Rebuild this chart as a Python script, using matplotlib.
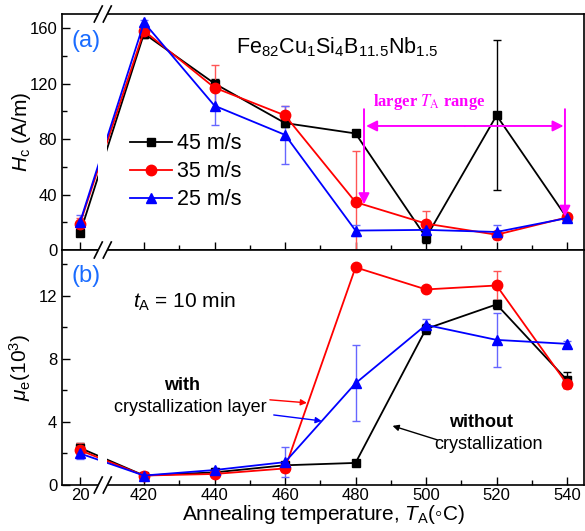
import numpy as np
import matplotlib
matplotlib.use('Agg')
import matplotlib.pyplot as plt
from matplotlib.transforms import IdentityTransform
from matplotlib.lines import Line2D
from matplotlib.patches import Polygon

plt.rcParams['font.family'] = ['Liberation Sans', 'DejaVu Sans']
plt.rcParams['mathtext.fontset'] = 'custom'
plt.rcParams['mathtext.rm'] = 'Liberation Sans'
plt.rcParams['mathtext.it'] = 'Liberation Sans:italic'
plt.rcParams['mathtext.bf'] = 'Liberation Sans:bold'

# ---------------- data ----------------
temps = [20, 420, 440, 460, 480, 500, 520, 540]
series = ['45 m/s', '35 m/s', '25 m/s']

hc_45 = [12, 156, 120, 91.5, 84, 9, 97, 23]
hc_35 = [19, 158, 117, 97, 34.5, 19, 11, 23.5]
hc_25 = [20, 164, 104, 83, 14, 14.5, 13, 23]
hc_45_err = [2, 3, 3, 3, 0, 4, 54, 1]
hc_35_err = [4, 3, 16, 7, 37, 9, 3, 1]
hc_25_err = [5, 2, 14, 21, 4, 2, 5, 1]

mu_45 = [2.35, 0.6, 0.8, 1.25, 1.4, 9.9, 11.45, 6.65]
mu_35 = [2.2, 0.6, 0.7, 1.05, 13.8, 12.4, 12.65, 6.4]
mu_25 = [2.0, 0.6, 0.95, 1.45, 6.45, 10.15, 9.2, 8.95]
mu_45_err = [0.3, 0.1, 0.1, 0.1, 0.0, 0.3, 0.3, 0.5]
mu_35_err = [0.45, 0.1, 0.1, 0.2, 0.1, 0.15, 0.9, 0.25]
mu_25_err = [0.35, 0.1, 0.15, 0.95, 2.4, 0.35, 1.7, 0.15]

major_ticks = [20, 420, 440, 460, 480, 500, 520, 540]
minor_ticks = [430, 450, 470, 490, 510, 530]

colors = ['black', 'red', 'blue']
err_colors = ['black', '#ff5555', '#6666ff']
markers = ['s', 'o', '^']
msizes = [6, 7.5, 7.5]

# ---------------- broken x scale ----------------
P20 = -0.908

def fwd(T):
    T = np.asarray(T, float)
    return np.where(T >= 420, (T - 420) / 20.0,
                    np.where(T >= 20, P20 + (T - 20) * (-P20) / 400.0,
                             P20 + (T - 20) / 20.0))

def inv(p):
    p = np.asarray(p, float)
    return np.where(p >= 0, 420 + 20.0 * p,
                    np.where(p >= P20, 20 + (p - P20) * 400.0 / (-P20),
                             20 + (p - P20) * 20.0))

W, H = 585, 531
fig = plt.figure(figsize=(W / 100, H / 100), dpi=100)
ax1 = fig.add_axes([62 / W, 1 - 250 / H, 522 / W, 236 / H])
ax2 = fig.add_axes([62 / W, 1 - 485 / H, 522 / W, 235 / H])

hc = [hc_45, hc_35, hc_25]
hce = [hc_45_err, hc_35_err, hc_25_err]
mu = [mu_45, mu_35, mu_25]
mue = [mu_45_err, mu_35_err, mu_25_err]

handles = []
for ax, vals, errs in [(ax1, hc, hce), (ax2, mu, mue)]:
    ax.set_xscale('function', functions=(fwd, inv))
    for i in range(3):
        ax.errorbar(temps, vals[i], yerr=errs[i], fmt='none', ecolor=err_colors[i],
                    elinewidth=1.0, capsize=3, capthick=1.0, zorder=1.8)
        ln, = ax.plot(temps, vals[i], color=colors[i], marker=markers[i],
                      markersize=msizes[i], lw=1.3, label=series[i], zorder=2)
        if ax is ax1:
            handles.append(ln)
    ax.set_xlim(14.9, 544.8)
    ax.set_xticks(major_ticks)
    ax.set_xticks(minor_ticks, minor=True)
    ax.tick_params(axis='both', which='both', direction='in', top=False, right=False,
                   labelsize=12)
    ax.tick_params(which='major', length=6, width=1)
    ax.tick_params(which='minor', length=3.5, width=1)
    ax.tick_params(axis='y', pad=3.5)
    ax.tick_params(axis='x', pad=2.5)
    for s in ax.spines.values():
        s.set_linewidth(1.2)
    # white gap through the connecting lines (axis break)
    ax.axvspan(134, 191, color='white', zorder=2.3, lw=0)

ax1.set_ylim(0, 170.1)
ax1.set_yticks([0, 40, 80, 120, 160])
ax1.set_yticks([20, 60, 100, 140], minor=True)
ax1.tick_params(axis='x', labelbottom=False)

ax2.set_ylim(0, 14.9)
ax2.set_yticks([0, 4, 8, 12])
ax2.set_yticks([2, 6, 10, 14], minor=True)

ax1.set_ylabel(r'$H_\mathrm{c}$ (A/m)', fontsize=15)
ax1.yaxis.set_label_coords(-0.055, 0.5)
ax2.set_ylabel(r'$\mu_\mathrm{e}$(10$^3$)', fontsize=15)
ax2.yaxis.set_label_coords(-0.055, 0.5)
ax2.set_xlabel(r'Annealing temperature, $T_\mathrm{A}$(◦C)', fontsize=15)
ax2.xaxis.set_label_coords(0.5, -0.077)

# panel labels
ax1.text(0.019, 0.885, '(a)', transform=ax1.transAxes, fontsize=17, color='#1a6cff',
         ha='left', va='center')
ax2.text(0.019, 0.89, '(b)', transform=ax2.transAxes, fontsize=17, color='#1a6cff',
         ha='left', va='center')

ax1.text(446, 142, r'Fe$_{82}$Cu$_1$Si$_4$B$_{11.5}$Nb$_{1.5}$', fontsize=15.5,
         ha='left', va='baseline')

leg = ax1.legend(handles=handles, loc='upper left', bbox_to_anchor=(0.13, 0.495),
                 frameon=False, fontsize=15.5, handlelength=1.95, handletextpad=0.25,
                 labelspacing=0.33, borderpad=0, borderaxespad=0, numpoints=1)

# magenta "larger T_A range" annotation
mag = '#ff00ff'
ax1.text(501, 107, r'larger $T_\mathrm{A}$ range', fontsize=12, color=mag,
         family='Liberation Serif', weight='bold', math_fontfamily='stix',
         ha='center', va='center')
ap = dict(arrowstyle='-|>', color=mag, lw=1.4, mutation_scale=16, shrinkA=0, shrinkB=0)
ax1.annotate('', xy=(483, 89.4), xytext=(511, 89.4), arrowprops=ap)
ax1.annotate('', xy=(539, 89.4), xytext=(511, 89.4), arrowprops=ap)
ax1.annotate('', xy=(482.4, 33), xytext=(482.4, 101.5), arrowprops=ap)
ax1.annotate('', xy=(539.4, 24), xytext=(539.4, 101.5), arrowprops=ap)

# bottom panel annotations
ax2.text(0.136, 0.779, r'$t_\mathrm{A}$ = 10 min', transform=ax2.transAxes, fontsize=15,
         ha='left', va='center')
ax2.text(0.23, 0.4255, 'with', transform=ax2.transAxes, fontsize=13, weight='bold',
         ha='center', va='center')
ax2.text(0.245, 0.328, 'crystallization layer', transform=ax2.transAxes, fontsize=13,
         ha='center', va='center')
ax2.text(0.803, 0.264, 'without', transform=ax2.transAxes, fontsize=13, weight='bold',
         ha='center', va='center')
ax2.text(0.818, 0.174, 'crystallization', transform=ax2.transAxes, fontsize=13,
         ha='center', va='center')
small = lambda c: dict(arrowstyle='-|>', color=c, lw=1.0, mutation_scale=9,
                       shrinkA=0, shrinkB=0)
ax2.annotate('', xy=(466.2, 5.21), xytext=(455.7, 5.4), arrowprops=small('red'))
ax2.annotate('', xy=(470.4, 4.06), xytext=(456.8, 4.44), arrowprops=small('blue'))
ax2.annotate('', xy=(490.5, 3.75), xytext=(503.2, 2.86), arrowprops=small('black'))

# break marks (//) on spines
fig.canvas.draw()
Tc = 162.5
def brk(ax, yfrac):
    xd, yd = ax.transAxes.transform((0, yfrac))
    xd = ax.transData.transform((Tc, 0))[0]
    dx, dy, sep = 4.0, 8.0, 4.5
    poly = Polygon([(xd - sep - dx, yd - dy), (xd + sep - dx, yd - dy),
                    (xd + sep + dx, yd + dy), (xd - sep + dx, yd + dy)],
                   closed=True, transform=IdentityTransform(), facecolor='white',
                   edgecolor='none', clip_on=False, zorder=5)
    fig.add_artist(poly)
    for s in (-sep, sep):
        fig.add_artist(Line2D([xd + s - dx, xd + s + dx], [yd - dy, yd + dy],
                              transform=IdentityTransform(), color='black', lw=1.2,
                              zorder=6, clip_on=False))

brk(ax1, 1.0)
brk(ax1, 0.0)
brk(ax2, 0.0)

fig.savefig('out.png', dpi=100)
